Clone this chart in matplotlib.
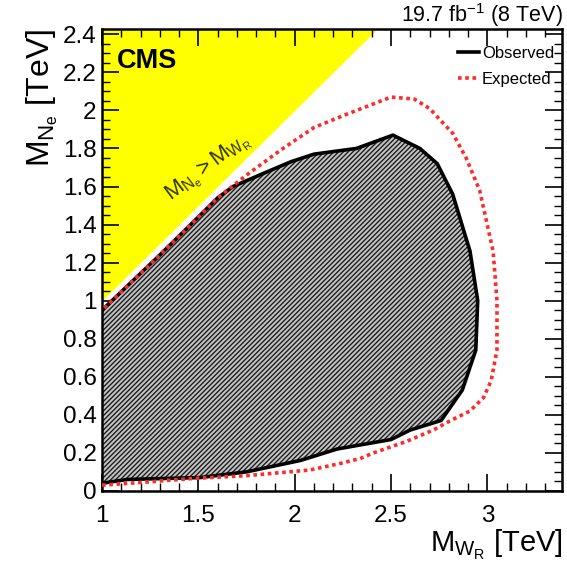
import matplotlib.pyplot as plt
from matplotlib.ticker import MultipleLocator

plt.rcParams['font.family'] = ['Liberation Sans', 'DejaVu Sans']
plt.rcParams['mathtext.fontset'] = 'custom'
plt.rcParams['mathtext.rm'] = 'Liberation Sans'
plt.rcParams['mathtext.it'] = 'Liberation Sans'
plt.rcParams['hatch.linewidth'] = 1.0

# observed exclusion contour (TeV)
obs_x = [1.0, 1.13, 1.51, 1.75, 2.03, 2.22, 2.50, 2.60, 2.76, 2.87, 2.94, 2.95,
         2.91, 2.82, 2.74, 2.65, 2.51, 2.32, 2.10, 1.98, 1.84, 1.68, 1.60, 1.30, 1.0]
obs_y = [0.04, 0.06, 0.07, 0.10, 0.16, 0.22, 0.27, 0.32, 0.37, 0.53, 0.74, 1.00,
         1.26, 1.56, 1.72, 1.80, 1.87, 1.80, 1.77, 1.73, 1.67, 1.60, 1.54, 1.24, 0.95]

# expected exclusion contour (TeV)
exp_x = [1.0, 1.21, 1.47, 1.75, 2.08, 2.24, 2.34, 2.41, 2.58, 2.72, 2.81, 2.91,
         2.98, 3.02, 3.05, 3.05, 3.03, 2.96, 2.89, 2.82, 2.70, 2.62, 2.50, 2.27,
         2.10, 1.925, 1.75, 1.60, 1.30, 1.0]
exp_y = [0.03, 0.045, 0.065, 0.08, 0.11, 0.145, 0.17, 0.20, 0.26, 0.32, 0.37, 0.42,
         0.49, 0.58, 0.74, 1.00, 1.26, 1.58, 1.75, 1.88, 2.01, 2.06, 2.07, 1.98,
         1.91, 1.79, 1.66, 1.54, 1.24, 0.95]

# kinematically forbidden region M_N > M_W
diag = [1.0, 2.43]

fig = plt.figure(figsize=(5.67, 5.61), dpi=100)
ax = fig.add_axes([0.180, 0.125, 0.812, 0.824])
ax.set_xlim(1, 3.39)
ax.set_ylim(0, 2.43)

ax.fill_between(diag, diag, 2.43, color='#ffff00', lw=0, zorder=1)

ax.fill(obs_x, obs_y, facecolor='#c4c4c4', edgecolor='#1e1e1e', hatch='///////',
        lw=0, zorder=2)
ax.plot(obs_x, obs_y, color='black', lw=2.6, zorder=3, label='Observed')
ax.plot(exp_x, exp_y, color='#ff2a2a', lw=2.6, ls=(0, (1, 1)), zorder=4,
        label='Expected')

ax.text(1.55, 1.70, r'$M_{N_e} > M_{W_R}$', rotation=37, fontsize=16,
        color='#333300', ha='center', va='center', zorder=5)
ax.text(1.075, 2.26, 'CMS', fontsize=19.5, fontweight='bold', ha='left', va='center')

ax.legend(loc='upper right', bbox_to_anchor=(0.982, 0.962), frameon=False,
          fontsize=12, handlelength=1.3, handletextpad=0.15, borderaxespad=0,
          borderpad=0, labelspacing=0.65)

ax.xaxis.set_major_locator(MultipleLocator(0.5))
ax.xaxis.set_minor_locator(MultipleLocator(0.1))
ax.yaxis.set_major_locator(MultipleLocator(0.2))
ax.yaxis.set_minor_locator(MultipleLocator(0.05))
ax.xaxis.set_major_formatter(plt.FuncFormatter(lambda v, p: f'{v:g}'))
ax.yaxis.set_major_formatter(plt.FuncFormatter(lambda v, p: f'{v:g}'))
ax.tick_params(which='both', direction='in', top=True, right=True, labelsize=17.5)
ax.tick_params(which='major', length=12, width=1.2)
ax.tick_params(which='minor', length=6, width=1.0)
ax.tick_params(axis='x', pad=10)
ax.tick_params(axis='y', pad=4)
for s in ax.spines.values():
    s.set_linewidth(1.8)

ax.set_xlabel(r'$M_{W_R}$ [TeV]', fontsize=21, loc='right', labelpad=1)
ax.set_ylabel(r'$M_{N_e}$ [TeV]', fontsize=23, loc='top', labelpad=2)
ax.set_title(r'19.7 fb$^{-1}$ (8 TeV)', fontsize=15.5, loc='right', pad=3)

fig.savefig('out.png', dpi=100)
